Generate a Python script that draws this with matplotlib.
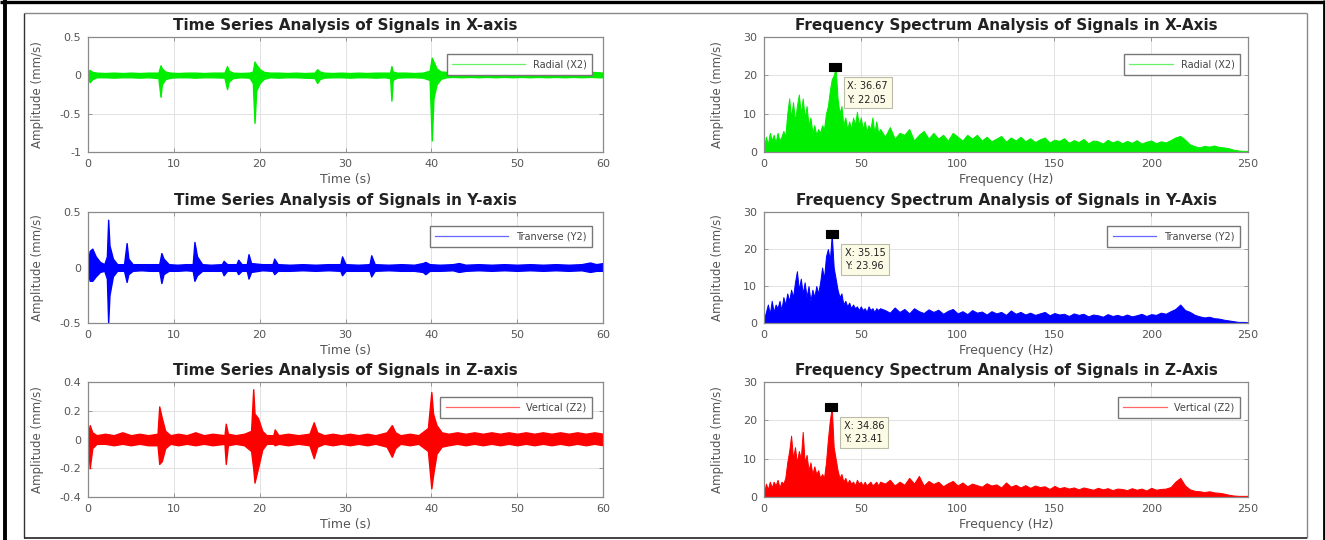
import numpy as np
import matplotlib
matplotlib.use('Agg')
import matplotlib.pyplot as plt
from matplotlib.lines import Line2D

plt.rcParams['font.family'] = ['DejaVu Sans']
plt.rcParams['axes.unicode_minus'] = False

# ---------------- data (envelopes) ----------------
# X-axis time series (Radial X2): time, upper envelope, lower envelope
tx = [0.0, 0.2, 0.5, 1.0, 2, 3, 4, 5, 6, 7, 8.2, 8.45, 8.6, 9.0, 9.6, 10.5, 11.5, 12.5, 13.5, 14.5,
      15.9, 16.2, 16.4, 16.9, 17.8, 18.8, 19.2, 19.4, 19.6, 20.0, 20.5, 21.2, 22.2, 23.2, 24.2, 25.2,
      26.4, 26.7, 27.0, 27.5, 28.5, 29.5, 30.5, 31.5, 32.5, 33.5, 34.5, 35.2, 35.35, 35.5, 36.0, 37,
      38, 39, 39.8, 40.05, 40.25, 40.6, 41.1, 41.8, 42.5, 43.5, 44.5, 45.5, 46.5, 47.5, 48.5, 49.5,
      50.5, 51.5, 52.5, 53.5, 54.5, 55.5, 56.5, 57.5, 58.5, 59.5, 60]
ux = [0.045, 0.07, 0.045, 0.035, 0.03, 0.035, 0.03, 0.035, 0.03, 0.035, 0.035, 0.13, 0.09, 0.05, 0.035, 0.03, 0.035, 0.035, 0.03, 0.035,
      0.035, 0.12, 0.06, 0.035, 0.03, 0.035, 0.05, 0.18, 0.14, 0.08, 0.045, 0.035, 0.035, 0.03, 0.035, 0.03,
      0.035, 0.08, 0.05, 0.035, 0.03, 0.035, 0.03, 0.035, 0.03, 0.035, 0.035, 0.035, 0.12, 0.05, 0.035, 0.035,
      0.03, 0.035, 0.06, 0.23, 0.18, 0.09, 0.05, 0.045, 0.045, 0.04, 0.045, 0.035, 0.045, 0.04, 0.045, 0.035,
      0.045, 0.04, 0.045, 0.035, 0.045, 0.04, 0.045, 0.035, 0.045, 0.04, 0.035]
lx = [-0.035, -0.09, -0.05, -0.025, -0.025, -0.03, -0.025, -0.025, -0.03, -0.025, -0.035, -0.28, -0.12, -0.05, -0.03, -0.025, -0.025, -0.03, -0.025, -0.025,
      -0.03, -0.18, -0.08, -0.035, -0.025, -0.03, -0.1, -0.62, -0.2, -0.1, -0.045, -0.025, -0.03, -0.025, -0.025, -0.03,
      -0.035, -0.1, -0.05, -0.03, -0.025, -0.025, -0.03, -0.025, -0.025, -0.03, -0.025, -0.035, -0.33, -0.06, -0.03, -0.025,
      -0.025, -0.03, -0.06, -0.85, -0.3, -0.12, -0.045, -0.025, -0.02, -0.025, -0.02, -0.025, -0.02, -0.025, -0.02, -0.025,
      -0.02, -0.025, -0.02, -0.025, -0.02, -0.025, -0.02, -0.025, -0.02, -0.025, -0.025]

# Y-axis time series (Tranverse Y2)
ty = [0.0, 0.2, 0.5, 0.9, 1.4, 1.9, 2.2, 2.35, 2.5, 2.9, 3.4, 4.2, 4.5, 4.7, 5.2, 6.2, 7.2, 8.3, 8.55, 8.8,
      9.4, 10.4, 11.4, 12.2, 12.4, 12.7, 13.3, 14.3, 15.6, 15.8, 16.2, 17.3, 17.5, 17.9, 18.5, 18.7, 19.0,
      20.3, 21.5, 21.7, 22.1, 23.5, 25, 26.5, 28, 29.4, 29.6, 30.0, 31.5, 32.8, 33.0, 33.4, 35, 36.5, 38,
      39.0, 39.3, 39.8, 41, 42.5, 43.2, 44, 45.5, 47, 48.5, 50, 51.5, 53, 54.5, 56, 57.5, 58.5, 59.2, 60]
uy = [0.05, 0.15, 0.17, 0.1, 0.05, 0.03, 0.1, 0.43, 0.2, 0.08, 0.03, 0.03, 0.22, 0.08, 0.03, 0.03, 0.03, 0.03, 0.13, 0.08,
      0.03, 0.025, 0.03, 0.03, 0.23, 0.1, 0.03, 0.025, 0.03, 0.06, 0.03, 0.03, 0.07, 0.03, 0.03, 0.12, 0.04,
      0.03, 0.03, 0.08, 0.03, 0.025, 0.03, 0.025, 0.03, 0.03, 0.1, 0.03, 0.025, 0.03, 0.11, 0.03, 0.025, 0.03, 0.025,
      0.04, 0.05, 0.03, 0.025, 0.03, 0.04, 0.025, 0.03, 0.025, 0.03, 0.025, 0.03, 0.025, 0.03, 0.025, 0.03, 0.045, 0.03, 0.04]
ly = [-0.05, -0.12, -0.12, -0.08, -0.04, -0.03, -0.1, -0.5, -0.25, -0.08, -0.03, -0.03, -0.13, -0.06, -0.03, -0.025, -0.03, -0.03, -0.14, -0.06,
      -0.03, -0.03, -0.025, -0.03, -0.12, -0.07, -0.03, -0.03, -0.03, -0.07, -0.03, -0.03, -0.06, -0.03, -0.03, -0.1, -0.04,
      -0.025, -0.03, -0.06, -0.03, -0.03, -0.025, -0.03, -0.025, -0.03, -0.07, -0.03, -0.03, -0.03, -0.08, -0.03, -0.025, -0.03, -0.03,
      -0.04, -0.06, -0.03, -0.03, -0.025, -0.04, -0.03, -0.025, -0.03, -0.025, -0.03, -0.025, -0.03, -0.025, -0.03, -0.025, -0.04, -0.03, -0.03]

# Z-axis time series (Vertical Z2)
tz = [0.0, 0.2, 0.5, 1.0, 2, 3, 4, 5, 6, 7, 8.1, 8.3, 8.6, 9.0, 9.6, 10.5, 11.5, 12.5, 13.5, 14.5,
      15.9, 16.05, 16.3, 17.2, 18.2, 19.0, 19.25, 19.4, 19.8, 20.3, 20.8, 21.6, 21.75, 22.2, 23.3, 24.5,
      25.8, 26.3, 26.7, 27.5, 28.5, 29.5, 30.5, 31.5, 32.5, 33.5, 34.8, 35.4, 35.8, 36.4, 37.5, 38.5,
      39.6, 40.0, 40.2, 40.6, 41.2, 42, 43, 44, 45, 46, 47, 48, 49, 50, 51, 52, 53, 54, 55, 56, 57, 58, 59, 60]
uz = [0.03, 0.1, 0.05, 0.03, 0.04, 0.03, 0.05, 0.03, 0.04, 0.03, 0.04, 0.23, 0.15, 0.06, 0.03, 0.04, 0.03, 0.05, 0.03, 0.04,
      0.03, 0.11, 0.04, 0.03, 0.04, 0.06, 0.35, 0.18, 0.15, 0.06, 0.03, 0.03, 0.07, 0.03, 0.04, 0.03,
      0.04, 0.12, 0.05, 0.03, 0.04, 0.03, 0.04, 0.03, 0.04, 0.03, 0.05, 0.1, 0.05, 0.03, 0.04, 0.03,
      0.08, 0.33, 0.18, 0.1, 0.05, 0.04, 0.05, 0.04, 0.05, 0.04, 0.05, 0.04, 0.05, 0.04, 0.05, 0.04, 0.05, 0.04, 0.05, 0.04, 0.05, 0.04, 0.05, 0.04]
lz = [-0.03, -0.2, -0.06, -0.03, -0.03, -0.04, -0.03, -0.04, -0.03, -0.04, -0.04, -0.17, -0.15, -0.06, -0.03, -0.04, -0.03, -0.04, -0.03, -0.04,
      -0.03, -0.17, -0.04, -0.03, -0.04, -0.08, -0.2, -0.3, -0.2, -0.07, -0.03, -0.03, -0.04, -0.03, -0.04, -0.03,
      -0.04, -0.13, -0.05, -0.03, -0.04, -0.03, -0.04, -0.03, -0.04, -0.03, -0.05, -0.12, -0.06, -0.03, -0.04, -0.03,
      -0.08, -0.34, -0.25, -0.1, -0.05, -0.04, -0.03, -0.04, -0.03, -0.04, -0.03, -0.04, -0.03, -0.04, -0.03, -0.04, -0.03, -0.04, -0.03, -0.04, -0.03, -0.04, -0.03, -0.04]

# Frequency grid (Hz): 1 Hz steps to 60 Hz, then 2.5 Hz steps to 250 Hz
freq = np.concatenate([np.arange(0, 61, 1.0), np.arange(62.5, 250.01, 2.5)])

spec_x = [1, 4, 2, 5, 3, 4.5, 2.5, 5, 3, 4,
          5.5, 4, 10, 14, 9, 13, 8, 12, 15, 10,
          14, 9, 12, 7, 9, 5, 7, 4.5, 6, 5,
          7, 6, 10, 12, 16, 19, 20, 22.05, 14, 10,
          12, 7, 9, 6, 8, 6, 9, 7, 10.5, 7,
          9, 6, 8, 5.5, 7, 6, 9, 5, 8, 5,
          6,
          4, 6.5, 3.5, 5, 4.5, 6, 3, 4.5, 5.5, 3.5,
          5, 3.5, 4.5, 3, 5, 4, 3, 4.5, 3.5, 4.5,
          3, 4, 2.8, 3.5, 4.2, 2.7, 3.8, 3, 4, 2.8,
          3.6, 2.6, 3.3, 3.8, 2.5, 3.2, 2.9, 3.6, 2.4, 3.1,
          2.6, 3.4, 2.3, 3, 2.8, 2.2, 3.2, 2.5, 3, 2.3,
          2.9, 2.4, 3.1, 2.2, 2.7, 3, 2.3, 2.8, 2.5, 3.1,
          3.8, 4.2, 3.2, 2, 1.5, 1.2, 1.6, 1.4, 1.7, 1.3,
          1.2, 1, 0.6, 0.4, 0.3, 0.3]
spec_y = [1, 3, 5, 2.5, 6, 3, 5, 4, 6, 3.5,
          7, 5, 8, 6, 9, 7, 11, 14, 9, 12,
          8, 11, 7, 10, 6, 9, 7, 10, 8, 11,
          15, 12, 18, 20, 17, 23.96, 15, 12, 9, 7,
          8, 5, 6, 4.5, 5.5, 4, 5, 4, 4.5, 3.5,
          4.5, 3.5, 4, 3, 4.5, 3.5, 4, 3, 4, 3.5,
          4,
          3.5, 2.8, 4.2, 3, 3.8, 2.6, 4, 3.2, 2.7, 3.7,
          3, 3.6, 2.5, 3.3, 3.8, 2.6, 3.2, 2.4, 3.5, 2.8,
          3.1, 2.3, 3.2, 2.6, 3, 2.2, 3.4, 2.5, 3, 2.3,
          2.8, 2.2, 2.6, 3, 2.1, 2.7, 2.3, 2.5, 1.9, 2.6,
          2.2, 2.5, 1.8, 2.3, 2.1, 1.7, 2.4, 1.9, 2.2, 1.8,
          2.3, 1.8, 2.1, 2.5, 1.9, 2.4, 2.2, 2.8, 2.5, 3.2,
          3.8, 5, 3.5, 3, 2.2, 1.8, 1.5, 1.7, 1.3, 1.2,
          0.9, 0.7, 0.5, 0.3, 0.3, 0.2]
spec_z = [1, 3.5, 2, 4, 2.5, 4, 3, 4.5, 2.5, 4,
          3.5, 5, 9, 12, 16, 10, 13, 9, 12, 10,
          17, 9, 11, 7, 9, 6, 8, 6, 7, 5,
          6, 5, 9, 15, 20, 23.41, 13, 10, 7, 5,
          6, 4, 5, 3.5, 4.5, 3.5, 4, 3, 4.5, 3.5,
          4, 3, 4, 3, 3.5, 4, 3, 3.5, 4, 3,
          4,
          3.5, 4.5, 3, 4, 3.2, 5, 3.5, 5.5, 3, 4.2,
          3.4, 4, 2.8, 3.6, 4.2, 3, 3.8, 2.8, 3.5, 3.1,
          2.7, 3.6, 3, 3.3, 2.5, 3.8, 2.7, 3.2, 2.5, 3.1,
          2.4, 3, 2.6, 2.8, 2.1, 2.9, 2.3, 2.6, 2.2, 2.5,
          2, 2.5, 2.2, 1.9, 2.4, 2, 2.3, 1.8, 2.2, 2.1,
          1.8, 2.3, 1.9, 2.2, 1.7, 2.4, 1.9, 2.1, 2.2, 2.6,
          4, 5, 3, 2, 1.6, 1.5, 1.3, 1.5, 1.2, 1.1,
          0.9, 0.6, 0.4, 0.3, 0.3, 0.3]

# data tips (peak frequency, peak amplitude)
tip_x = [36.67, 35.15, 34.86]
tip_y = [22.05, 23.96, 23.41]

colors = ['#00ee00', '#0000ff', '#ff0000']
labels = ['Radial (X2)', 'Tranverse (Y2)', 'Vertical (Z2)']
axis_names = ['X', 'Y', 'Z']
time_ylims = [(-1, 0.5), (-0.5, 0.5), (-0.4, 0.4)]
time_yticks = [[-1, -0.5, 0, 0.5], [-0.5, 0, 0.5], [-0.4, -0.2, 0, 0.2, 0.4]]
time_yticklabels = [['-1', '-0.5', '0', '0.5'], ['-0.5', '0', '0.5'], ['-0.4', '-0.2', '0', '0.2', '0.4']]
time_xticks = [0, 10, 20, 30, 40, 50, 60]
freq_xticks = [0, 50, 100, 150, 200, 250]
freq_yticks = [0, 10, 20, 30]

times = [(tx, ux, lx), (ty, uy, ly), (tz, uz, lz)]
spectra = [spec_x, spec_y, spec_z]

# ---------------- figure ----------------
W, H = 1325, 540
fig = plt.figure(figsize=(W / 100, H / 100), dpi=100)

def add_ax(x0, y0, x1, y1):
    return fig.add_axes([x0 / W, 1 - y1 / H, (x1 - x0) / W, (y1 - y0) / H])

rows = [(37, 152), (212, 323), (382, 497)]
legend_tops = [54, 226, 397]
tick_col = '#555555'
tip_marker = [(-1.7, -1), (1.7, -1), (1.7, 1), (-1.7, 1), (-1.7, -1)]

def style(ax):
    for s in ax.spines.values():
        s.set_color('#8a8a8a')
        s.set_linewidth(0.9)
    ax.tick_params(direction='in', length=3, width=0.6, color='#8a8a8a',
                   labelcolor=tick_col, labelsize=8, top=True, right=True, pad=5)
    ax.grid(True, color='#e2e2e2', linewidth=0.7)
    ax.set_axisbelow(True)

for i in range(3):
    y0, y1 = rows[i]
    hpx = y1 - y0
    c = colors[i]
    leg_y = 1 - (legend_tops[i] - y0) / hpx
    # time series
    ax = add_ax(88, y0, 603, y1)
    t, u, l = times[i]
    ax.fill_between(t, l, u, color=c, linewidth=1.0, edgecolor=c)
    ax.set_xlim(0, 60)
    ax.set_ylim(*time_ylims[i])
    ax.set_xticks(time_xticks)
    ax.set_yticks(time_yticks[i])
    ax.set_yticklabels(time_yticklabels[i])
    style(ax)
    ax.set_title('Time Series Analysis of Signals in %s-axis' % axis_names[i],
                 fontsize=11, fontweight='bold', color='#222222', pad=5)
    ax.set_xlabel('Time (s)', fontsize=9, color='#555555')
    ax.set_ylabel('Amplitude (mm/s)', fontsize=8.5, color='#555555')
    ax.xaxis.set_label_coords(0.5, -21 / hpx)
    ax.yaxis.set_label_coords(-44 / 515, 0.5)
    ax.legend(handles=[Line2D([0], [0], color=c, lw=0.9, alpha=0.6)], labels=[labels[i]],
              loc='upper right', bbox_to_anchor=(1 - 11 / 515, leg_y), borderaxespad=0,
              fontsize=7, fancybox=False, edgecolor='#777777', borderpad=0.55,
              framealpha=1, handlelength=7.5, labelcolor='#444444')

    # frequency spectrum
    ax = add_ax(764, y0, 1248, y1)
    ax.fill_between(freq, 0, spectra[i], color=c, linewidth=0.7, edgecolor=c)
    ax.set_xlim(0, 250)
    ax.set_ylim(0, 30)
    ax.set_xticks(freq_xticks)
    ax.set_yticks(freq_yticks)
    style(ax)
    ax.set_title('Frequency Spectrum Analysis of Signals in %s-Axis' % axis_names[i],
                 fontsize=11, fontweight='bold', color='#222222', pad=5)
    ax.set_xlabel('Frequency (Hz)', fontsize=9, color='#555555')
    ax.set_ylabel('Amplitude (mm/s)', fontsize=8.5, color='#555555')
    ax.xaxis.set_label_coords(0.5, -21 / hpx)
    ax.yaxis.set_label_coords(-40 / 484, 0.5)
    ax.legend(handles=[Line2D([0], [0], color=c, lw=0.9, alpha=0.6)], labels=[labels[i]],
              loc='upper right', bbox_to_anchor=(1 - 8 / 484, leg_y), borderaxespad=0,
              fontsize=7, fancybox=False, edgecolor='#777777', borderpad=0.55,
              framealpha=1, handlelength=4.5, labelcolor='#444444')
    # data tip
    ax.plot([tip_x[i]], [tip_y[i]], marker=tip_marker, ms=9, color='black', mew=0.8, zorder=5)
    ax.annotate('X: %.2f\nY: %.2f' % (tip_x[i], tip_y[i]), xy=(tip_x[i], tip_y[i]),
                xytext=(9, -10), textcoords='offset points', va='top', ha='left',
                fontsize=7, color='#222222', linespacing=1.4,
                bbox=dict(boxstyle='square,pad=0.4', fc='#fbfbe6', ec='#bbbbaa', lw=0.8))

# frame decorations
def fline(xs, ys, col, lw):
    fig.add_artist(Line2D([x / W for x in xs], [1 - y / H for y in ys], color=col, lw=lw,
                          transform=fig.transFigure, solid_capstyle='butt'))

fline([0, W], [1.5, 1.5], 'black', 2.4)
fline([5, 5], [0, H], 'black', 2.8)
fline([1323.5, 1323.5], [0, H], 'black', 2.0)
fline([24, 1307], [13, 13], '#888888', 1.0)
fline([1307, 1307], [13, 538], '#888888', 1.0)
fline([24, 24], [13, 538], '#333333', 1.0)
fline([24, 1307], [538, 538], '#222222', 1.2)

fig.savefig('out.png', dpi=100, facecolor='white')
